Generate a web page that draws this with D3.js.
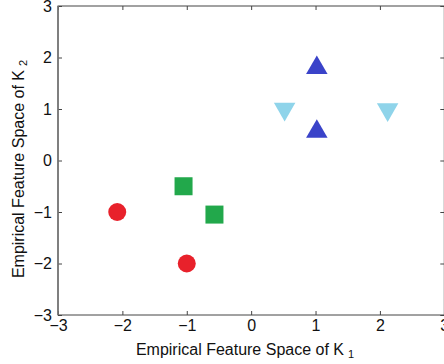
<!DOCTYPE html>
<html>
<head>
<meta charset="utf-8">
<script src="https://cdn.jsdelivr.net/npm/d3@7"></script>
<style>
  html, body { margin: 0; padding: 0; background: #fff; }
  svg { display: block; font-family: "Liberation Sans", Arial, sans-serif; }
</style>
</head>
<body>
<div id="chart"></div>
<script>
// data
const circleX = [-2.08, -1.0];
const circleY = [-1.0, -2.0];
const squareX = [-1.05, -0.57];
const squareY = [-0.5, -1.05];
const upX = [1.02, 1.02];
const upY = [1.8, 0.56];
const downX = [0.52, 2.12];
const downY = [1.0, 0.99];
const xTicks = [-3, -2, -1, 0, 1, 2, 3];
const yTicks = [-3, -2, -1, 0, 1, 2, 3];

const W = 444, H = 364;
const margin = { left: 58, right: 0, top: 6, bottom: 49 };

const svg = d3.select('#chart').append('svg')
    .attr('width', W).attr('height', H);

const x = d3.scaleLinear().domain([-3, 3]).range([margin.left, 444.3]);
const y = d3.scaleLinear().domain([-3, 3]).range([H - margin.bottom, margin.top]);

// box
const x0 = x(-3), x1 = x(3), y0 = y(-3), y1 = y(3);
svg.append('rect')
    .attr('x', x0).attr('y', y1)
    .attr('width', x1 - x0).attr('height', y0 - y1)
    .attr('fill', 'none').attr('stroke', '#444').attr('stroke-width', 1);

// bottom + left axes, ticks inward
const xAxis = svg.append('g')
    .attr('transform', `translate(0,${y0})`)
    .call(d3.axisBottom(x).tickValues(xTicks).tickSize(-4).tickPadding(8).tickFormat(d3.format('d')));
const yAxis = svg.append('g')
    .attr('transform', `translate(${x0},0)`)
    .call(d3.axisLeft(y).tickValues(yTicks).tickSize(-4).tickPadding(8).tickFormat(d3.format('d')));

// top + right ticks
svg.append('g')
    .attr('transform', `translate(0,${y1})`)
    .call(d3.axisTop(x).tickValues(xTicks).tickSize(-4).tickFormat(''));
svg.append('g')
    .attr('transform', `translate(${x1},0)`)
    .call(d3.axisRight(y).tickValues(yTicks).tickSize(-4).tickFormat(''));

svg.selectAll('.domain').remove();
svg.selectAll('.tick line').attr('stroke', '#444');
[xAxis, yAxis].forEach(a => a.selectAll('text')
    .attr('font-size', 16).attr('fill', '#111')
    .attr('font-family', '"Liberation Sans", Arial, sans-serif'));
xAxis.selectAll('text').attr('dy', '0.5em');
yAxis.selectAll('text').attr('dx', '2px');

// left axis drawn a bit heavier in grey like the picture
svg.append('line')
    .attr('x1', x0).attr('x2', x0).attr('y1', y1).attr('y2', y0)
    .attr('stroke', '#777').attr('stroke-width', 1.6);

// markers
svg.selectAll('.circ').data(d3.zip(circleX, circleY)).enter()
    .append('circle')
    .attr('cx', d => x(d[0])).attr('cy', d => y(d[1]))
    .attr('r', 9).attr('fill', '#e8212b');

svg.selectAll('.sq').data(d3.zip(squareX, squareY)).enter()
    .append('rect')
    .attr('x', d => x(d[0]) - 9).attr('y', d => y(d[1]) - 9)
    .attr('width', 18).attr('height', 18).attr('fill', '#22a84b');

const tri = d3.symbol().type(d3.symbolTriangle).size(200);
svg.selectAll('.up').data(d3.zip(upX, upY)).enter()
    .append('path')
    .attr('d', tri)
    .attr('transform', d => `translate(${x(d[0])},${y(d[1])})`)
    .attr('fill', '#3a43c9');

svg.selectAll('.down').data(d3.zip(downX, downY)).enter()
    .append('path')
    .attr('d', tri)
    .attr('transform', d => `translate(${x(d[0])},${y(d[1])}) rotate(180)`)
    .attr('fill', '#8fd4ea');

// axis titles
const xt = svg.append('text')
    .attr('x', 245).attr('y', 355)
    .attr('text-anchor', 'middle').attr('font-size', 16).attr('fill', '#111');
xt.append('tspan').text('Empirical Feature Space of K');
xt.append('tspan').attr('dx', 4).attr('dy', 3).attr('font-size', 11).text('1');

const yt = svg.append('text')
    .attr('transform', `translate(24,169) rotate(-90)`)
    .attr('text-anchor', 'middle').attr('font-size', 16).attr('fill', '#111');
yt.append('tspan').text('Empirical Feature Space of K');
yt.append('tspan').attr('dx', 4).attr('dy', 3).attr('font-size', 11).text('2');
</script>
</body>
</html>
